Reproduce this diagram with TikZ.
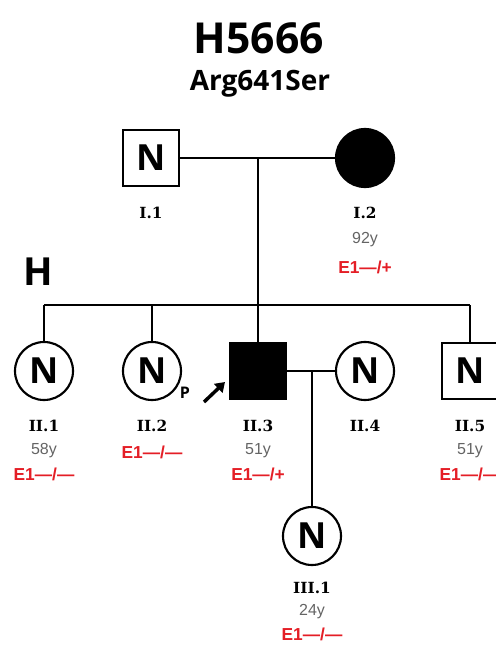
\documentclass[tikz,border=0pt]{standalone}
\usepackage{fontspec}
\setmainfont{Liberation Sans}
\newfontfamily\titlefont{Open Sans}
\newfontfamily\idfont{DejaVu Serif}
\usetikzlibrary{arrows.meta}
\definecolor{gtred}{RGB}{228,30,38}
\definecolor{agegrey}{RGB}{100,100,100}
\begin{document}
\begin{tikzpicture}[x=0.75pt,y=-0.75pt,line width=1.9pt,
    male/.style={draw,rectangle,line width=1.6pt,minimum size=42pt,inner sep=0pt,
      font=\titlefont\bfseries\fontsize{27}{27}\selectfont},
    female/.style={draw,circle,line width=1.6pt,minimum size=43.5pt,inner sep=0pt,
      font=\titlefont\bfseries\fontsize{27}{27}\selectfont},
    affm/.style={male,fill=black},
    afff/.style={female,fill=black},
    idlbl/.style={font=\idfont\bfseries\fontsize{11.5}{11.5}\selectfont},
    agelbl/.style={text=agegrey,font=\fontsize{12}{12}\selectfont},
    gtlbl/.style={text=gtred,font=\bfseries\fontsize{13}{13}\selectfont}]
  \useasboundingbox (0,0) rectangle (496,646);
  % titles
  \node[font=\titlefont\bfseries\fontsize{32}{32}\selectfont] (title) at (259,38) {H5666};
  \node[font=\titlefont\bfseries\fontsize{21}{21}\selectfont] (variant) at (260,84) {Arg641Ser};
  \node[font=\titlefont\bfseries\fontsize{29}{29}\selectfont] (fam) at (38,272) {H};
  % generation I
  \node[male] (I1) at (151,158) {N};
  \node[afff] (I2) at (365,158) {};
  \coordinate (m1) at (258,158);
  \draw (I1) -- (I2);
  \node[idlbl] (I1id) at (151,213) {I.1};
  \node[idlbl] (I2id) at (365,213) {I.2};
  \node[agelbl] (I2age) at (365,240) {92y};
  \node[gtlbl] (I2gt) at (365,267) {E1—/+};
  % sibship
  \coordinate (s1) at (258,305);
  \coordinate (c1) at (44,305);
  \coordinate (c2) at (152,305);
  \coordinate (c5) at (470,305);
  \draw (m1) -- (s1);
  \draw (c1) -- (c5);
  % generation II
  \node[female] (II1) at (44,371) {N};
  \node[female] (II2) at (152,371) {N};
  \node[affm] (II3) at (258,371) {};
  \node[female] (II4) at (365,371) {N};
  \node[male] (II5) at (470,371) {N};
  \draw (c1) -- (II1);
  \draw (c2) -- (II2);
  \draw (s1) -- (II3);
  \draw (c5) -- (II5);
  \draw (II3) -- (II4);
  \node[font=\titlefont\bfseries\fontsize{12}{12}\selectfont] (prob) at (185,393) {P};
  \coordinate (pa) at (204,402);
  \coordinate (pb) at (225,382);
  \draw[line width=2.6pt,-{Triangle[length=7pt,width=9pt]}] (pa) -- (pb);
  \node[idlbl] (II1id) at (44,426) {II.1};
  \node[agelbl] (II1age) at (44,451) {58y};
  \node[gtlbl] (II1gt) at (44,474) {E1—/—};
  \node[idlbl] (II2id) at (152,426) {II.2};
  \node[gtlbl] (II2gt) at (152,452) {E1—/—};
  \node[idlbl] (II3id) at (258,426) {II.3};
  \node[agelbl] (II3age) at (258,451) {51y};
  \node[gtlbl] (II3gt) at (258,474) {E1—/+};
  \node[idlbl] (II4id) at (365,426) {II.4};
  \node[idlbl] (II5id) at (470,426) {II.5};
  \node[agelbl] (II5age) at (470,451) {51y};
  \node[gtlbl] (II5gt) at (470,474) {E1—/—};
  % generation III
  \coordinate (m2) at (312,371);
  \node[female] (III1) at (312,536) {N};
  \draw (m2) -- (III1);
  \node[idlbl] (III1id) at (312,588) {III.1};
  \node[agelbl] (III1age) at (312,612) {24y};
  \node[gtlbl] (III1gt) at (312,634) {E1—/—};
\end{tikzpicture}
\end{document}
